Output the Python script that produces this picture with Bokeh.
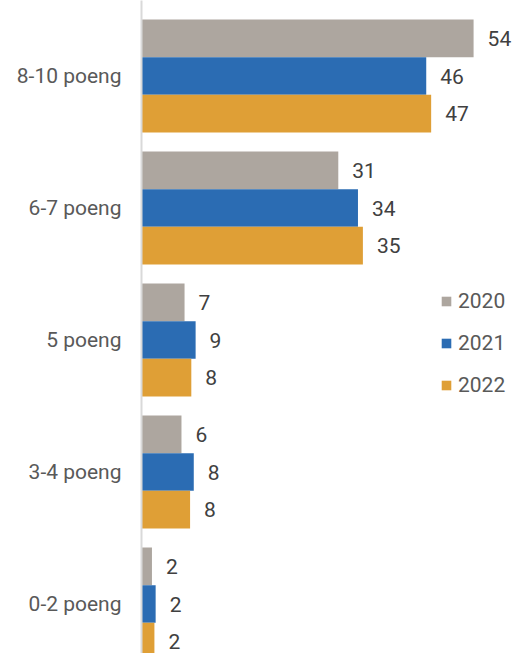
from bokeh.plotting import figure
from bokeh.models import Range1d, ColumnDataSource, FixedTicker, Legend, LegendItem
from bokeh.core.properties import value
from bokeh.embed import file_html
from bokeh.resources import INLINE

categories = ["8-10 poeng", "6-7 poeng", "5 poeng", "3-4 poeng", "0-2 poeng"]
series = ["2020", "2021", "2022"]
v2020 = [54.0, 32.0, 7.0, 6.5, 1.7]
v2021 = [46.3, 35.2, 8.8, 8.5, 2.3]
v2022 = [47.1, 36.0, 8.1, 7.9, 2.1]
labels2020 = ["54", "31", "7", "6", "2"]
labels2021 = ["46", "34", "9", "8", "2"]
labels2022 = ["47", "35", "8", "8", "2"]
colors = ["#ADA69F", "#2B6CB3", "#DF9F36"]

FONT = "Roboto"
n = len(categories)
ypos = [n - 1 - i for i in range(n)]  # top category highest

p = figure(width=513, height=653, output_backend="svg", toolbar_location=None,
           x_range=Range1d(0, 60.49), y_range=Range1d(-0.375, 4.572),
           min_border_left=141, min_border_right=0, min_border_top=0, min_border_bottom=0)
p.outline_line_color = None
p.xgrid.visible = False
p.ygrid.visible = False
p.xaxis.visible = False
p.background_fill_color = "white"
p.border_fill_color = "white"

yax = p.yaxis[0]
yax.ticker = FixedTicker(ticks=ypos)
yax.major_label_overrides = {y: c for y, c in zip(ypos, categories)}
yax.axis_line_color = "#D9D9D9"
yax.axis_line_width = 2
yax.major_tick_line_color = None
yax.minor_tick_line_color = None
yax.major_tick_out = 0
yax.major_tick_in = 0
yax.major_label_standoff = 20
yax.major_label_text_font = FONT
yax.major_label_text_font_size = "21px"
yax.major_label_text_color = "#595959"

bh = 0.285
offsets = [bh, 0.0, -bh]
vals = [v2020, v2021, v2022]
labs = [labels2020, labels2021, labels2022]
items = []
for s, off, vv, ll, col in zip(series, offsets, vals, labs, colors):
    src = ColumnDataSource(dict(y=[y + off for y in ypos], v=vv, lab=ll))
    r = p.hbar(y="y", right="v", left=0, height=bh, source=src,
               fill_color=col, line_color=None)
    p.text(x="v", y="y", text="lab", source=src, x_offset=14,
           text_align="left", text_baseline="middle",
           text_font=value(FONT), text_font_size="21px", text_color="#404040")
    items.append(LegendItem(label=s, renderers=[r]))

legend = Legend(items=items, location=(299, 256), orientation="vertical",
                glyph_width=12, glyph_height=12, label_standoff=6,
                spacing=18, padding=0, margin=0,
                border_line_color=None, background_fill_alpha=0,
                label_text_font=FONT, label_text_font_size="21px",
                label_text_color="#595959")
p.add_layout(legend, "center")

open("out.html", "w").write(file_html(p, INLINE))
